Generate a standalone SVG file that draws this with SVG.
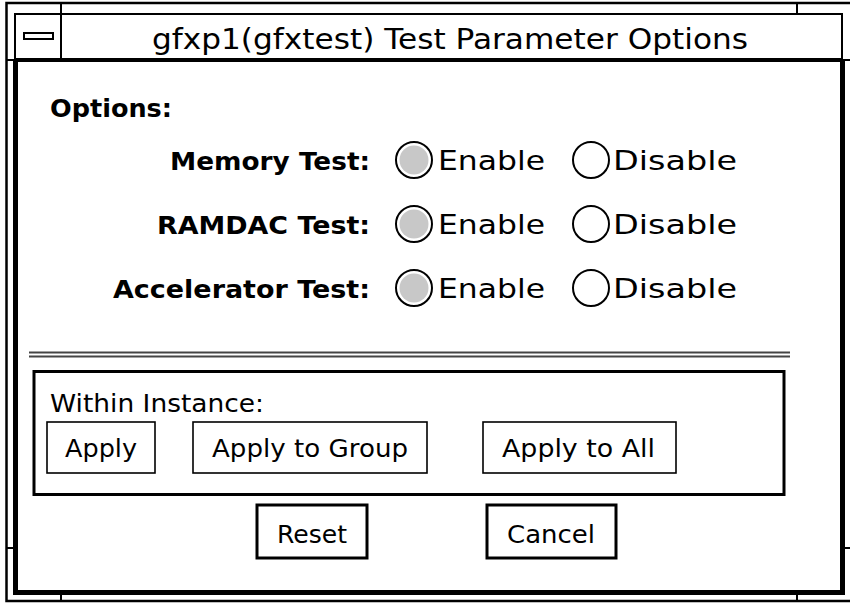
<svg xmlns="http://www.w3.org/2000/svg" width="850" height="604" viewBox="0 0 850 604">
<style>
  text { font-family: "DejaVu Sans", "Noto Sans", sans-serif; fill: #000; }
  .title { font-size: 28px; }
  .hdr { font-size: 25px; font-weight: bold; }
  .lbl { font-size: 25px; font-weight: bold; }
  .opt { font-size: 27px; }
  .btn { font-size: 25px; }
  .frame { fill: none; stroke: #000; }
  .radio { fill: #fff; stroke: #000; stroke-width: 2; }
  .dot { fill: #c8c8c8; }
  .pb { fill: #fff; stroke: #000; stroke-width: 1.6; }
  .pbk { fill: #fff; stroke: #000; stroke-width: 3; }
</style>
<rect width="850" height="604" fill="#fff"/>

<g id="window-frame">
  <rect class="frame" x="6.5" y="3" width="847" height="598" stroke-width="2.5"/>
  <line class="frame" x1="61" y1="3" x2="61" y2="14" stroke-width="2"/>
  <line class="frame" x1="797" y1="3" x2="797" y2="14" stroke-width="2"/>
  <line class="frame" x1="61" y1="593" x2="61" y2="601" stroke-width="2"/>
  <line class="frame" x1="797" y1="593" x2="797" y2="601" stroke-width="2"/>
  <line class="frame" x1="6" y1="60" x2="15" y2="60" stroke-width="2"/>
  <line class="frame" x1="842" y1="60" x2="850" y2="60" stroke-width="2"/>
  <line class="frame" x1="6" y1="548" x2="15" y2="548" stroke-width="2"/>
  <line class="frame" x1="842" y1="548" x2="850" y2="548" stroke-width="2"/>
</g>

<g id="title-bar">
  <rect class="frame" x="15" y="14" width="827" height="46" stroke-width="2"/>
  <line class="frame" x1="15" y1="60" x2="842" y2="60" stroke-width="4"/>
  <line class="frame" x1="61" y1="14" x2="61" y2="60" stroke-width="2"/>
  <rect x="24" y="33" width="29" height="6" fill="#fff" stroke="#000" stroke-width="2"/>
  <text class="title" x="152" y="49" textLength="596" lengthAdjust="spacingAndGlyphs">gfxp1(gfxtest) Test Parameter Options</text>
</g>

<g id="body-border">
  <polyline class="frame" points="15.5,60 15.5,592.5 842.5,592.5 842.5,60" stroke-width="5"/>
</g>

<g id="options">
  <text class="hdr" x="50" y="117" textLength="122" lengthAdjust="spacingAndGlyphs">Options:</text>
</g>

<g id="memory-test">
  <text class="lbl" x="370" y="170" text-anchor="end" textLength="200" lengthAdjust="spacingAndGlyphs">Memory Test:</text>
  <circle class="radio" cx="414" cy="160" r="18"/>
  <circle class="dot" cx="414" cy="160" r="14.5"/>
  <text class="opt" x="438" y="170" textLength="107" lengthAdjust="spacingAndGlyphs">Enable</text>
  <circle class="radio" cx="591" cy="160" r="18"/>
  <text class="opt" x="613" y="170" textLength="124" lengthAdjust="spacingAndGlyphs">Disable</text>
</g>

<g id="ramdac-test">
  <text class="lbl" x="370" y="234" text-anchor="end" textLength="213" lengthAdjust="spacingAndGlyphs">RAMDAC Test:</text>
  <circle class="radio" cx="414" cy="224" r="18"/>
  <circle class="dot" cx="414" cy="224" r="14.5"/>
  <text class="opt" x="438" y="234" textLength="107" lengthAdjust="spacingAndGlyphs">Enable</text>
  <circle class="radio" cx="591" cy="224" r="18"/>
  <text class="opt" x="613" y="234" textLength="124" lengthAdjust="spacingAndGlyphs">Disable</text>
</g>

<g id="accelerator-test">
  <text class="lbl" x="370" y="298" text-anchor="end" textLength="257" lengthAdjust="spacingAndGlyphs">Accelerator Test:</text>
  <circle class="radio" cx="414" cy="288" r="18"/>
  <circle class="dot" cx="414" cy="288" r="14.5"/>
  <text class="opt" x="438" y="298" textLength="107" lengthAdjust="spacingAndGlyphs">Enable</text>
  <circle class="radio" cx="591" cy="288" r="18"/>
  <text class="opt" x="613" y="298" textLength="124" lengthAdjust="spacingAndGlyphs">Disable</text>
</g>

<g id="separator">
  <line x1="29" y1="352.5" x2="790" y2="352.5" stroke="#444" stroke-width="2"/>
  <line x1="29" y1="356.5" x2="790" y2="356.5" stroke="#444" stroke-width="2"/>
</g>

<g id="within-instance">
  <rect x="34" y="371.5" width="750" height="123" fill="none" stroke="#000" stroke-width="3"/>
  <text class="btn" x="50" y="412" textLength="214" lengthAdjust="spacingAndGlyphs">Within Instance:</text>
</g>

<g id="btn-apply">
  <rect class="pb" x="47" y="422" width="108" height="51"/>
  <text class="btn" x="65" y="457" textLength="72" lengthAdjust="spacingAndGlyphs">Apply</text>
</g>
<g id="btn-apply-group">
  <rect class="pb" x="193" y="422" width="234" height="51"/>
  <text class="btn" x="212" y="457" textLength="196" lengthAdjust="spacingAndGlyphs">Apply to Group</text>
</g>
<g id="btn-apply-all">
  <rect class="pb" x="483" y="422" width="193" height="51"/>
  <text class="btn" x="502" y="457" textLength="153" lengthAdjust="spacingAndGlyphs">Apply to All</text>
</g>
<g id="btn-reset">
  <rect class="pbk" x="257" y="505" width="110" height="53"/>
  <text class="btn" x="277" y="543" textLength="70" lengthAdjust="spacingAndGlyphs">Reset</text>
</g>
<g id="btn-cancel">
  <rect class="pbk" x="487" y="505" width="129" height="53"/>
  <text class="btn" x="507" y="543" textLength="88" lengthAdjust="spacingAndGlyphs">Cancel</text>
</g>
</svg>
